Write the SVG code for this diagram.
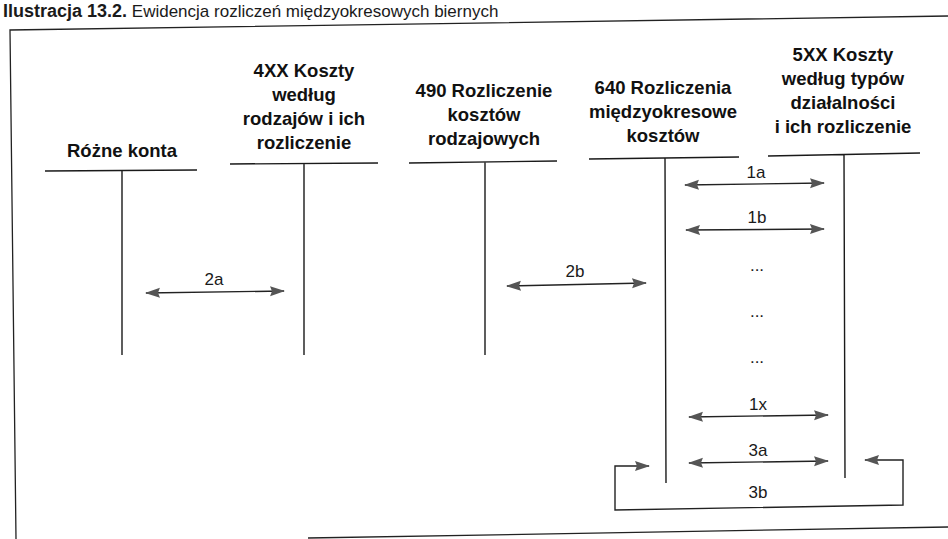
<svg xmlns="http://www.w3.org/2000/svg" width="948" height="539" viewBox="0 0 948 539">
<style>
.hd{font-family:"Liberation Sans",Arial,sans-serif;font-weight:bold;font-size:18.5px;fill:#111;text-anchor:middle}
.lb{font-family:"Liberation Sans",Arial,sans-serif;font-size:17px;fill:#1a1a1a;text-anchor:middle}
.ln{stroke:#1a1a1a;stroke-width:1.4;fill:none}
.ar{stroke:#222;stroke-width:1.4;fill:none;marker-start:url(#ah);marker-end:url(#ah)}
.fr{stroke:#222;stroke-width:1.3;fill:none}
</style>
<defs>
<marker id="ah" markerUnits="userSpaceOnUse" markerWidth="15" markerHeight="11" viewBox="0 0 15 11" refX="14" refY="5.5" orient="auto-start-reverse">
<path d="M0,0.5 L15,5.5 L0,10.5 L2,5.5 z" fill="#555"/>
</marker>
</defs>
<rect width="948" height="539" fill="#fff"/>
<g id="title">
<text x="3" y="17" font-family="'Liberation Sans',Arial,sans-serif" fill="#1a1a1a"><tspan font-weight="bold" font-size="18">Ilustracja 13.2.</tspan><tspan font-size="17"> Ewidencja rozliczeń międzyokresowych biernych</tspan></text>
</g>
<g id="frame">
<path class="fr" d="M948,16 L10,30 L16,539"/>
<path class="fr" d="M308,538 L948,527"/>
</g>
<g id="rozne-konta">
<text class="hd" x="122" y="157">Różne konta</text>
<path class="ln" d="M45,171 L197,170 M122,171 L122,355"/>
</g>
<g id="konto-4xx">
<text class="hd" x="304" y="77">4XX Koszty</text>
<text class="hd" x="304" y="101">według</text>
<text class="hd" x="304" y="125">rodzajów i ich</text>
<text class="hd" x="304" y="149">rozliczenie</text>
<path class="ln" d="M230,164 L378,163 M304,164 L304,355"/>
</g>
<g id="konto-490">
<text class="hd" x="484" y="97">490 Rozliczenie</text>
<text class="hd" x="484" y="121">kosztów</text>
<text class="hd" x="484" y="145">rodzajowych</text>
<path class="ln" d="M409,163 L557,161 M485,162 L485,355"/>
</g>
<g id="konto-640">
<text class="hd" x="663" y="94">640 Rozliczenia</text>
<text class="hd" x="663" y="118">międzyokresowe</text>
<text class="hd" x="663" y="142">kosztów</text>
<path class="ln" d="M589,159 L739,157 M665,158 L666,483"/>
</g>
<g id="konto-5xx">
<text class="hd" x="843" y="61">5XX Koszty</text>
<text class="hd" x="843" y="85">według typów</text>
<text class="hd" x="843" y="109">działalności</text>
<text class="hd" x="843" y="133">i ich rozliczenie</text>
<path class="ln" d="M768,156 L920,153 M844,155 L845,478"/>
</g>
<g id="connectors">
<path class="ar" d="M146,293 L284,291"/>
<text class="lb" x="214" y="285">2a</text>
<path class="ar" d="M507,286 L646,283"/>
<text class="lb" x="575" y="277">2b</text>
<path class="ar" d="M685,185 L824,183"/>
<text class="lb" x="756" y="178">1a</text>
<path class="ar" d="M686,230 L824,229"/>
<text class="lb" x="757" y="223">1b</text>
<text class="lb" x="757" y="271">...</text>
<text class="lb" x="757" y="317">...</text>
<text class="lb" x="757" y="363">...</text>
<path class="ar" d="M689,417 L828,415"/>
<text class="lb" x="758" y="410">1x</text>
<path class="ar" d="M689,463 L828,461"/>
<text class="lb" x="758" y="456">3a</text>
<path class="ar" d="M649,466 L615,466 L615,510 L903,505 L903,460 L865,460"/>
<text class="lb" x="758" y="498">3b</text>
</g>
</svg>
